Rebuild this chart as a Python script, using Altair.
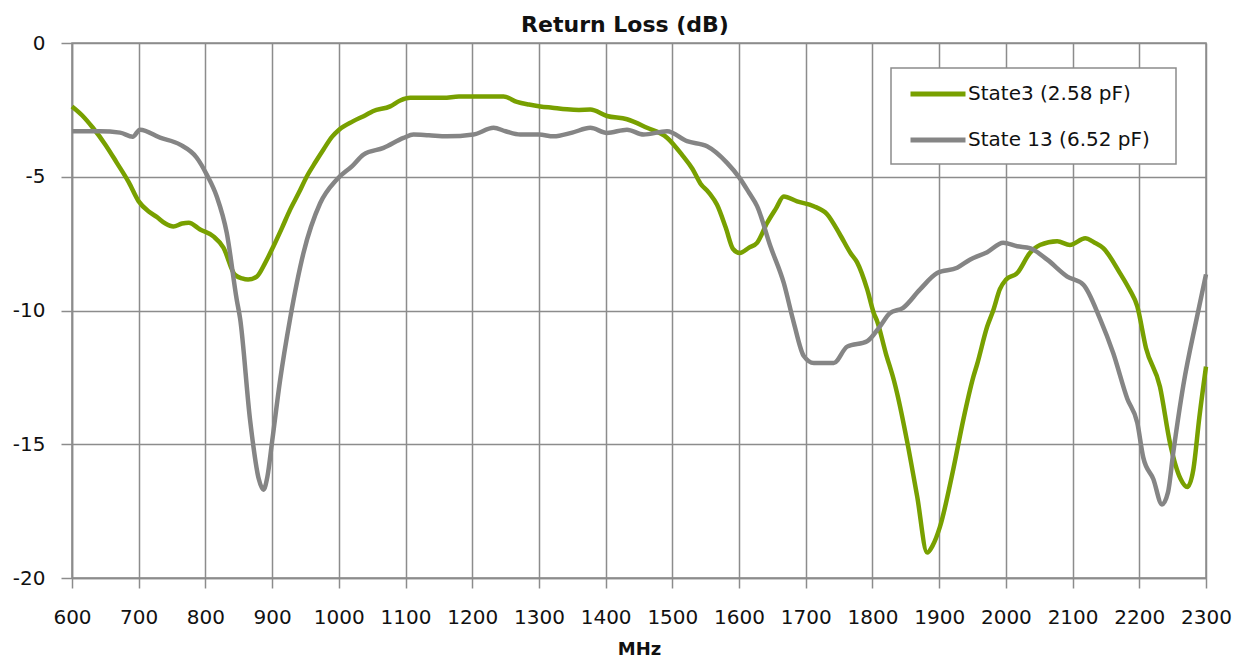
import altair as alt
import pandas as pd

series_names = ["State3 (2.58 pF)", "State 13 (6.52 pF)"]
series_colors = ["#78a000", "#858585"]

freq_state3 = [600, 615, 631, 650, 667, 685, 700, 715, 727, 740, 752, 765, 775, 792, 812, 827, 844, 855, 864, 877,
               890, 902, 915, 927, 940, 952, 965, 977, 990, 1000, 1021, 1040, 1051, 1077, 1092, 1107, 1130, 1157,
               1180, 1202, 1225, 1247, 1267, 1285, 1302, 1320, 1342, 1360, 1377, 1402, 1432, 1462, 1492, 1516,
               1530, 1542, 1555, 1567, 1580, 1591, 1601, 1615, 1627, 1642, 1655, 1667, 1687, 1712, 1732, 1751,
               1767, 1777, 1792, 1802, 1807, 1820, 1832, 1837, 1852, 1867, 1882, 1890, 1901, 1921, 1936, 1951,
               1957, 1972, 1981, 1991, 2000, 2017, 2036, 2051, 2077, 2096, 2119, 2132, 2146, 2171, 2185, 2197,
               2210, 2231, 2246, 2262, 2272, 2281, 2290, 2300]
rl_state3 = [-2.37, -2.7, -3.16, -3.8, -4.47, -5.2, -5.92, -6.3, -6.5, -6.75, -6.86, -6.75, -6.72, -6.97, -7.23,
             -7.65, -8.66, -8.8, -8.84, -8.73, -8.2, -7.6, -6.9, -6.23, -5.6, -4.99, -4.45, -3.98, -3.5, -3.25,
             -2.93, -2.7, -2.55, -2.37, -2.15, -2.05, -2.05, -2.05, -2.0, -2.0, -2.0, -2.0, -2.2, -2.3, -2.37,
             -2.42, -2.48, -2.5, -2.49, -2.73, -2.85, -3.17, -3.54, -4.23, -4.7, -5.25, -5.6, -6.05, -6.9, -7.7,
             -7.85, -7.65, -7.47, -6.73, -6.2, -5.74, -5.92, -6.1, -6.4, -7.15, -7.85, -8.2, -9.2, -10.1, -10.4,
             -11.6, -12.6, -13.1, -14.9, -16.95, -19.05, -18.8, -18.1, -15.95, -14.1, -12.5, -12.0, -10.6, -10.0,
             -9.2, -8.85, -8.6, -7.85, -7.55, -7.41, -7.55, -7.3, -7.45, -7.67, -8.6, -9.2, -9.85, -11.4, -12.85,
             -14.95, -16.3, -16.6, -15.95, -14.0, -12.1]

freq_state13 = [600, 642, 672, 691, 702, 732, 762, 787, 802, 817, 832, 847, 852, 867, 880, 887, 893, 900, 912, 927,
                947, 972, 997, 1020, 1037, 1067, 1097, 1112, 1135, 1162, 1202, 1232, 1250, 1272, 1300, 1322, 1350,
                1377, 1402, 1432, 1457, 1492, 1522, 1552, 1582, 1601, 1615, 1627, 1647, 1667, 1682, 1697, 1712,
                1742, 1762, 1792, 1811, 1826, 1846, 1871, 1897, 1927, 1946, 1972, 1996, 2017, 2036, 2062, 2092,
                2116, 2141, 2161, 2182, 2197, 2206, 2221, 2234, 2243, 2251, 2266, 2286, 2300]
rl_state13 = [-3.3, -3.3, -3.35, -3.5, -3.24, -3.54, -3.8, -4.29, -4.92, -5.74, -7.1, -9.6, -10.3, -14.1, -16.3,
              -16.7, -16.2, -14.9, -12.6, -10.3, -7.85, -5.99, -5.1, -4.6, -4.17, -3.92, -3.55, -3.42, -3.45, -3.49,
              -3.42, -3.17, -3.3, -3.42, -3.42, -3.49, -3.35, -3.17, -3.36, -3.24, -3.42, -3.3, -3.67, -3.86, -4.48,
              -5.05, -5.6, -6.1, -7.6, -8.97, -10.45, -11.7, -11.96, -11.96, -11.35, -11.15, -10.6, -10.1, -9.9,
              -9.22, -8.6, -8.4, -8.1, -7.82, -7.47, -7.6, -7.67, -8.1, -8.73, -9.03, -10.3, -11.6, -13.3, -14.2,
              -15.5, -16.3, -17.25, -16.8, -15.3, -12.8, -10.3, -8.65]

x_ticks = list(range(600, 2301, 100))
y_ticks = [-20, -15, -10, -5, 0]

df = pd.concat([
    pd.DataFrame({"MHz": freq_state3, "dB": rl_state3, "series": series_names[0]}),
    pd.DataFrame({"MHz": freq_state13, "dB": rl_state13, "series": series_names[1]}),
])

FONT = "DejaVu Sans"
GRID = "#8c8c8c"
TEXT = "#111111"

x_enc = alt.X("MHz:Q", title="MHz",
              scale=alt.Scale(domain=[600, 2300], nice=False, zero=False),
              axis=alt.Axis(values=x_ticks, format="d", labelFontSize=20, labelPadding=19,
                            labelOverlap=False, labelFlush=False,
                            titleFontSize=18, titleFontWeight="bold", titlePadding=13, tickSize=10))
y_enc = alt.Y("dB:Q", title=None,
              scale=alt.Scale(domain=[-20, 0], nice=False, zero=False),
              axis=alt.Axis(values=y_ticks, labelExpr="toString(datum.value)",
                            labelFontSize=20, labelPadding=16, tickSize=11))

legend_box = alt.Chart(pd.DataFrame({"box": [0]})).mark_rect(
    fill="white", stroke=GRID, strokeWidth=1.5
).encode(
    x=alt.value(819), x2=alt.value(1104), y=alt.value(25), y2=alt.value(121)
)

lines = alt.Chart(df).mark_line(strokeWidth=4.5, interpolate="monotone").encode(
    x=x_enc,
    y=y_enc,
    color=alt.Color("series:N",
                    scale=alt.Scale(domain=series_names, range=series_colors),
                    legend=alt.Legend(title=None, orient="none", legendX=836, legendY=21,
                                      padding=0, symbolType="stroke", symbolSize=3025,
                                      symbolStrokeWidth=5, labelFontSize=20, labelFont=FONT,
                                      labelColor=TEXT, labelLimit=400, rowPadding=6, labelOffset=0)),
    order=alt.Order("MHz:Q"),
)

chart = alt.layer(legend_box, lines).properties(
    width=1134, height=535,
    title=alt.TitleParams("Return Loss (dB)", fontSize=22, fontWeight="bold", font=FONT,
                          color=TEXT, anchor="middle", dx=-14, offset=-4),
    autosize=alt.AutoSizeParams(type="none"),
    padding={"left": 64, "top": 35, "right": 30, "bottom": 84},
).configure_axis(
    gridColor=GRID, gridWidth=1.5, domainColor=GRID, domainWidth=1.5,
    tickColor=GRID, tickWidth=1.5, labelFont=FONT, titleFont=FONT,
    labelColor=TEXT, titleColor=TEXT,
).configure_view(
    stroke=GRID, strokeWidth=1.5,
)

chart.save("out.html", embed_options={"renderer": "svg", "actions": False})
